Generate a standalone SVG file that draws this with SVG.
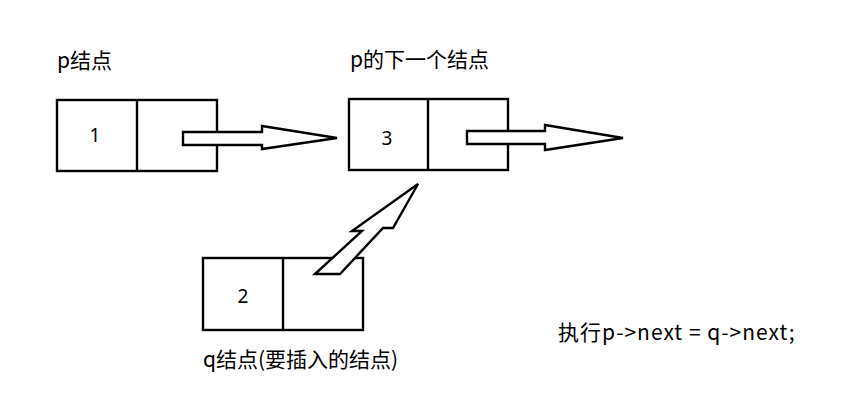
<svg xmlns="http://www.w3.org/2000/svg" width="864" height="416" viewBox="0 0 864 416">
<style>
.box{fill:#fff;stroke:#000;stroke-width:2.4}
.arr{fill:#fff;stroke:#000;stroke-width:2.4;stroke-linejoin:miter}
.t{font-family:"Noto Sans CJK SC","Noto Sans",sans-serif;font-size:21px;fill:#000}
.c{font-family:"Noto Sans CJK SC","Noto Sans",sans-serif;font-size:21px;fill:#000;letter-spacing:1px}
.n{font-family:"Noto Sans","Noto Sans CJK SC",sans-serif;font-size:19px;fill:#000;text-anchor:middle}
</style>
<rect width="864" height="416" fill="#fff"/>
<g id="node1">
<rect class="box" x="57" y="100" width="160" height="71"/>
<line class="box" x1="137" y1="100" x2="137" y2="171"/>
<text class="n" x="95" y="142">1</text>
<text class="t" x="57" y="68">p结点</text>
</g>
<g id="node3">
<rect class="box" x="349" y="99" width="159" height="71"/>
<line class="box" x1="428" y1="99" x2="428" y2="170"/>
<text class="n" x="387" y="145">3</text>
<text class="t" x="350" y="67">p的下一个结点</text>
</g>
<g id="node2">
<rect class="box" x="203" y="258" width="160" height="72"/>
<line class="box" x1="283" y1="258" x2="283" y2="330"/>
<text class="n" x="243" y="303">2</text>
<text class="t" x="203" y="367">q结点(要插入的结点)</text>
</g>
<g id="connectors">
<polygon class="arr" points="183,132 262,132 262,126 337,138 262,149 262,145 183,145"/>
<polygon class="arr" points="467,131 545,131 545,125 623,138 545,150 545,144 467,144"/>
<polygon class="arr" points="315,274 362,231 352,231 418,184 393,228 383,228 340,274"/>
</g>
<text class="c" x="558" y="340">执行p-&gt;next = q-&gt;next;</text>
</svg>
